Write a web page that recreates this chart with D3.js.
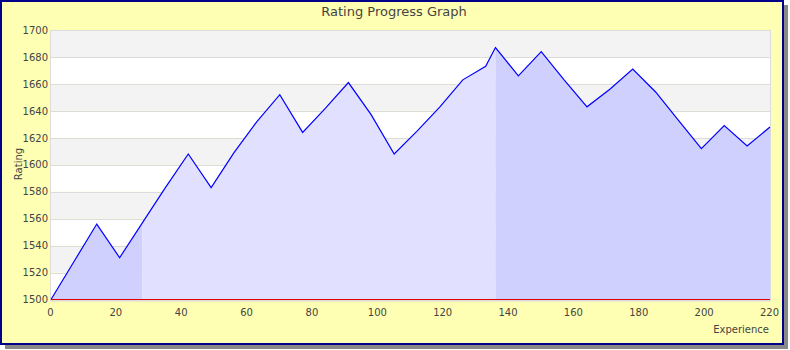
<!DOCTYPE html>
<html lang="en">
<head>
<meta charset="utf-8">
<title>Rating Progress Graph</title>
<style>
  body { margin:0; background:#fff; font-family:'DejaVu Sans', sans-serif; }
  svg text { fill:#444; }
</style>
</head>
<body>
<div id="canvas"></div>
<script src="https://cdnjs.cloudflare.com/ajax/libs/d3/7.8.5/d3.min.js"></script>
<script>
// games played (experience) and rating after each
var experience = [0, 7, 14, 21, 28, 35, 42, 49, 56, 63, 70, 77, 84, 91, 98, 105, 112, 119, 126, 133, 136,
                  143, 150, 157, 164, 171, 178, 185, 192, 199, 206, 213, 220];
var rating = [1500, 1528, 1556, 1531, 1557, 1583, 1608, 1583, 1609, 1632, 1652, 1624, 1642, 1661, 1637, 1608,
              1625, 1643, 1663, 1673, 1687, 1666, 1684, 1663, 1643, 1656, 1671, 1654, 1633, 1612, 1629, 1614, 1628];
// shaded stretches of the chart
var shadeBreaks = [0, 28, 136, 220];
var shadeColors = ["#d0d0ff", "#e1e1ff", "#d0d0ff"];
var xTicks = [0, 20, 40, 60, 80, 100, 120, 140, 160, 180, 200, 220];
var yTicks = [1500, 1520, 1540, 1560, 1580, 1600, 1620, 1640, 1660, 1680, 1700];

var W = 790, H = 350;
var plot = {left: 51, right: 770, top: 30, bottom: 299.5};

var data = experience.map(function(e, i) { return {x: e, y: rating[i]}; });

var x = d3.scaleLinear().domain([0, 220]).range([plot.left, plot.right]);
var y = d3.scaleLinear().domain([1500, 1700]).range([plot.bottom, plot.top]);

var svg = d3.select("#canvas").append("svg")
    .attr("width", W).attr("height", H);

// frame with shadow
svg.append("rect").attr("x", 5).attr("y", 5).attr("width", 783).attr("height", 344).attr("fill", "#888");
svg.append("rect").attr("x", 1).attr("y", 1).attr("width", 782).attr("height", 343)
    .attr("fill", "#ffffb3").attr("stroke", "#00008b").attr("stroke-width", 2);

// alternating bands
for (var i = 0; i < yTicks.length - 1; i++) {
  svg.append("rect")
    .attr("x", plot.left).attr("width", plot.right - plot.left)
    .attr("y", y(yTicks[i + 1])).attr("height", y(yTicks[i]) - y(yTicks[i + 1]))
    .attr("fill", i % 2 === 0 ? "#ffffff" : "#f3f3f3");
}

// grid
svg.append("g").selectAll("line").data(yTicks).enter().append("line")
    .attr("x1", plot.left).attr("x2", plot.right)
    .attr("y1", function(d) { return Math.round(y(d)) + 0.5; })
    .attr("y2", function(d) { return Math.round(y(d)) + 0.5; })
    .attr("stroke", "#dcdcdc");

// shaded areas, clipped per region
var area = d3.area().x(function(d) { return x(d.x); }).y0(y(1500)).y1(function(d) { return y(d.y); });
var defs = svg.append("defs");
for (var s = 0; s < shadeColors.length; s++) {
  defs.append("clipPath").attr("id", "clip" + s).append("rect")
    .attr("x", x(shadeBreaks[s])).attr("width", x(shadeBreaks[s + 1]) - x(shadeBreaks[s]))
    .attr("y", plot.top).attr("height", plot.bottom - plot.top);
  svg.append("path").datum(data)
    .attr("clip-path", "url(#clip" + s + ")")
    .attr("fill", shadeColors[s])
    .attr("d", area);
}

// plot borders
svg.append("line").attr("x1", plot.left - 0.5).attr("x2", plot.left - 0.5).attr("y1", plot.top).attr("y2", plot.bottom + 2).attr("stroke", "#dcdcdc");
svg.append("line").attr("x1", plot.right + 0.5).attr("x2", plot.right + 0.5).attr("y1", plot.top).attr("y2", plot.bottom + 2).attr("stroke", "#dcdcdc");
svg.append("line").attr("x1", plot.left).attr("x2", plot.right).attr("y1", plot.bottom + 1.5).attr("y2", plot.bottom + 1.5).attr("stroke", "#dcdcdc");

// rating line
svg.append("path").datum(data)
    .attr("fill", "none").attr("stroke", "#0000ff").attr("stroke-width", 1.2)
    .attr("d", d3.line().x(function(d) { return x(d.x); }).y(function(d) { return y(d.y); }));

// baseline
svg.append("line").attr("x1", plot.left).attr("x2", plot.right).attr("y1", plot.bottom).attr("y2", plot.bottom)
    .attr("stroke", "#e00000").attr("stroke-width", 1.2);

// axes labels
var yAxis = d3.axisLeft(y).tickValues(yTicks).tickSize(0).tickPadding(3).tickFormat(d3.format("d"));
var gy = svg.append("g").attr("transform", "translate(" + plot.left + ",0)").call(yAxis);
gy.select(".domain").remove();
gy.selectAll("text").style("font-size", "10px").style("font-family", "DejaVu Sans").attr("fill", "#444");

var xAxis = d3.axisBottom(x).tickValues(xTicks).tickSize(0).tickPadding(9).tickFormat(d3.format("d"));
var gx = svg.append("g").attr("transform", "translate(-1," + plot.bottom + ")").call(xAxis);
gx.select(".domain").remove();
gx.selectAll("text").style("font-size", "10px").style("font-family", "DejaVu Sans").attr("fill", "#444");

svg.append("text").text("Rating Progress Graph")
    .attr("x", 394).attr("y", 16)
    .style("text-anchor", "middle").style("font-size", "13px");

svg.append("text").text("Rating")
    .attr("transform", "translate(22,164) rotate(-90)")
    .style("text-anchor", "middle").style("font-size", "10px");

svg.append("text").text("Experience")
    .attr("x", 769).attr("y", 333)
    .style("text-anchor", "end").style("font-size", "10px");
</script>
</body>
</html>
